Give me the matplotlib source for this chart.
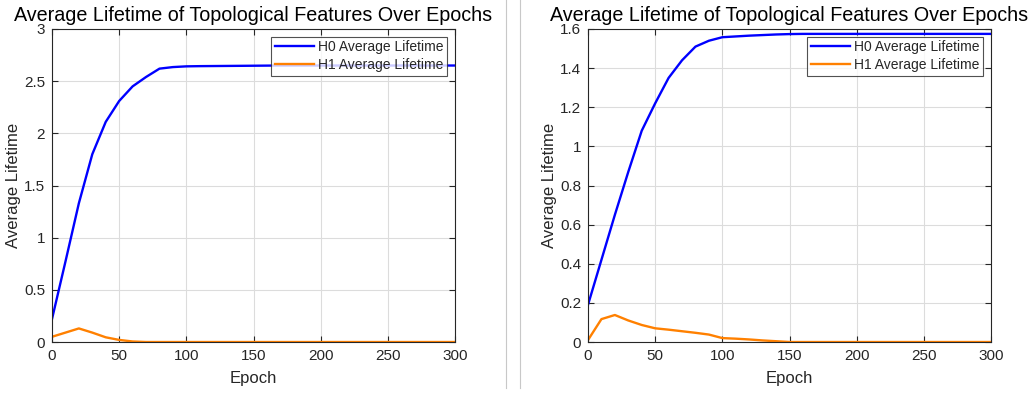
import matplotlib
matplotlib.use("Agg")
import matplotlib.pyplot as plt
from matplotlib.lines import Line2D

plt.rcParams['font.family'] = ['Liberation Sans', 'DejaVu Sans']

epochs = list(range(0, 301, 10))

h0_left = [0.22, 0.77, 1.33, 1.80, 2.11, 2.31, 2.45, 2.54, 2.62, 2.635, 2.642,
           2.644, 2.645, 2.646, 2.647, 2.648, 2.649, 2.65, 2.65, 2.65, 2.65,
           2.65, 2.65, 2.65, 2.65, 2.65, 2.65, 2.65, 2.65, 2.65, 2.65]
h1_left = [0.05, 0.09, 0.13, 0.09, 0.045, 0.02, 0.005, 0.0, 0.0, 0.0, 0.0,
           0.0, 0.0, 0.0, 0.0, 0.0, 0.0, 0.0, 0.0, 0.0, 0.0,
           0.0, 0.0, 0.0, 0.0, 0.0, 0.0, 0.0, 0.0, 0.0, 0.0]

h0_right = [0.19, 0.42, 0.65, 0.87, 1.08, 1.22, 1.35, 1.44, 1.51, 1.54, 1.558,
            1.562, 1.566, 1.569, 1.572, 1.574, 1.575, 1.575, 1.575, 1.575, 1.575,
            1.575, 1.575, 1.575, 1.575, 1.575, 1.575, 1.575, 1.575, 1.575, 1.575]
h1_right = [0.01, 0.117, 0.138, 0.11, 0.087, 0.07, 0.063, 0.055, 0.047, 0.038, 0.02,
            0.017, 0.013, 0.008, 0.004, 0.0, 0.0, 0.0, 0.0, 0.0, 0.0,
            0.0, 0.0, 0.0, 0.0, 0.0, 0.0, 0.0, 0.0, 0.0, 0.0]

title = "Average Lifetime of Topological Features Over Epochs"
xticks = [0, 50, 100, 150, 200, 250, 300]
yticks_left = [0, 0.5, 1, 1.5, 2, 2.5, 3]
ytick_labels_left = ["0", "0.5", "1", "1.5", "2", "2.5", "3"]
yticks_right = [0, 0.2, 0.4, 0.6, 0.8, 1, 1.2, 1.4, 1.6]
ytick_labels_right = ["0", "0.2", "0.4", "0.6", "0.8", "1", "1.2", "1.4", "1.6"]

W, H = 1036, 393
fig = plt.figure(figsize=(W / 100, H / 100), dpi=100)
fig.patch.set_facecolor('white')

BLUE = '#0000FF'
ORANGE = '#FF8000'
TXT = '#262626'


def px_axes(x0, y0, x1, y1):
    return fig.add_axes([x0 / W, 1 - y1 / H, (x1 - x0) / W, (y1 - y0) / H])


def panel(ax, h0, h1, ymax, yticks, ylabels):
    ax.plot(epochs, h0, color=BLUE, lw=1.7, label="H0 Average Lifetime")
    ax.plot(epochs, h1, color=ORANGE, lw=1.7, label="H1 Average Lifetime")
    ax.set_xlim(0, 300)
    ax.set_ylim(0, ymax)
    ax.set_xticks(xticks)
    ax.set_yticks(yticks)
    ax.set_yticklabels(ylabels)
    ax.grid(True, color='#dcdcdc', lw=0.8)
    ax.set_axisbelow(True)
    ax.tick_params(direction='in', top=True, right=True, length=4,
                   labelsize=11, colors=TXT)
    ax.tick_params(axis='x', pad=5)
    ax.tick_params(axis='y', pad=5)
    for s in ax.spines.values():
        s.set_color('#262626')
        s.set_linewidth(0.8)
    ax.set_title(title, fontsize=14.2, color='black', pad=6)
    ax.set_xlabel("Epoch", fontsize=12, color=TXT)
    ax.set_ylabel("Average Lifetime", fontsize=12, color=TXT)
    ax.xaxis.set_label_coords(0.5, -0.093)
    ax.yaxis.set_label_coords(-0.078, 0.5)
    leg = ax.legend(loc='upper right', fontsize=10, frameon=True, fancybox=False,
                    borderpad=0.25, handlelength=2.8, handletextpad=0.35,
                    labelspacing=0.3, borderaxespad=0.55)
    leg.get_frame().set_edgecolor('#262626')
    leg.get_frame().set_linewidth(0.8)
    for t in leg.get_texts():
        t.set_color(TXT)


ax1 = px_axes(52, 29, 455, 342)
panel(ax1, h0_left, h1_left, 3, yticks_left, ytick_labels_left)

ax2 = px_axes(588, 29, 991, 342)
panel(ax2, h0_right, h1_right, 1.6, yticks_right, ytick_labels_right)

# thin divider lines between the two panels
for xp in (505.5, 519.5):
    fig.add_artist(Line2D([xp / W, xp / W], [1 - 388 / H, 1.0],
                          color='#c8c8c8', lw=0.8, transform=fig.transFigure))

fig.savefig("out.png", dpi=100)
